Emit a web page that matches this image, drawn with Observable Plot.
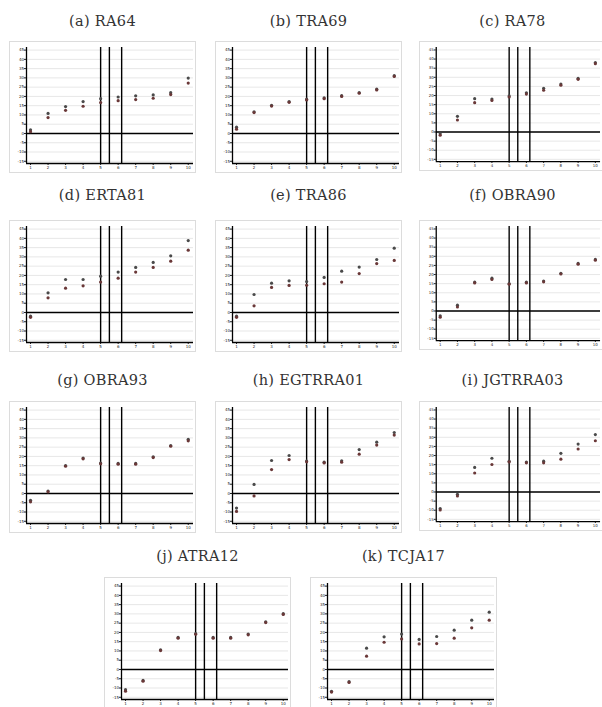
<!DOCTYPE html>
<html><head><meta charset="utf-8">
<script src="https://cdn.jsdelivr.net/npm/d3@7"></script>
<script src="https://cdn.jsdelivr.net/npm/@observablehq/plot@0.6"></script>
<style>
html,body{margin:0;padding:0;background:#fff;}
body{width:602px;height:707px;position:relative;overflow:hidden;}
.title{position:absolute;width:200px;text-align:center;font-family:"DejaVu Serif","Liberation Serif",serif;font-size:14.5px;letter-spacing:0.3px;color:#333;line-height:20px;white-space:nowrap;}
.panel{position:absolute;outline:1px solid #dcdcdc;}
.panel svg{display:block;}
</style></head><body>
<script>
const deciles = [1,2,3,4,5,6,7,8,9,10];
const yTicks = [-15,-10,-5,0,5,10,15,20,25,30,35,40,45];
const cutoffs = [5, 5.5, 6.2];
const titles = ["(a) RA64","(b) TRA69","(c) RA78","(d) ERTA81","(e) TRA86","(f) OBRA90","(g) OBRA93","(h) EGTRRA01","(i) JGTRRA03","(j) ATRA12","(k) TCJA17"];

const ra64_hi = [2.0,10.8,14.5,17.2,18.8,19.7,20.3,20.8,22.0,29.9];
const ra64_lo = [1.0,8.6,12.5,14.7,16.7,17.7,18.3,19.0,21.0,27.2];
const tra69_hi = [3.4,11.7,15.2,17.2,18.5,19.2,20.4,22.1,23.9,31.2];
const tra69_lo = [2.3,11.3,14.8,16.8,18.1,18.8,20.0,21.7,23.5,30.8];
const ra78_hi = [-1.0,8.6,18.3,18.1,19.8,21.5,24.0,26.3,29.5,38.1];
const ra78_lo = [-1.8,6.6,16.1,17.3,19.2,20.8,22.9,25.7,28.9,37.5];
const erta81_hi = [-2.0,10.6,17.8,17.8,19.6,21.8,24.3,27.0,30.6,38.8];
const erta81_lo = [-2.6,7.9,13.1,14.4,16.4,18.5,21.8,24.3,27.7,33.6];
const tra86_hi = [-2.0,9.7,15.8,17.1,16.7,18.9,22.3,24.5,28.6,34.7];
const tra86_lo = [-2.6,3.6,13.5,14.6,14.7,15.5,16.4,21.0,26.4,28.1];
const obra90_hi = [-2.6,3.2,15.8,18.0,15.1,15.8,16.4,20.7,26.1,28.3];
const obra90_lo = [-3.4,2.2,15.4,17.3,14.7,15.4,16.0,20.3,25.7,27.9];
const obra93_hi = [-3.7,1.3,15.1,19.1,16.4,16.2,16.2,19.8,25.9,29.2];
const obra93_lo = [-4.5,0.9,14.7,18.7,16.0,15.8,15.8,19.4,25.5,28.4];
const egtrra01_hi = [-7.9,4.9,17.8,20.5,17.5,16.9,17.6,23.7,27.7,32.9];
const egtrra01_lo = [-9.7,-1.3,12.9,18.3,17.1,16.5,16.9,21.2,26.1,31.5];
const jgtrra03_hi = [-9.1,-1.3,13.5,18.5,16.9,16.4,16.9,21.2,26.3,31.5];
const jgtrra03_lo = [-9.9,-2.2,10.4,15.1,16.5,16.0,16.0,18.0,23.6,28.1];
const atra12_hi = [-10.9,-5.9,10.6,17.3,19.4,17.3,17.3,19.1,25.7,30.1];
const atra12_lo = [-11.7,-6.3,10.2,16.9,19.0,16.9,16.9,18.7,25.3,29.7];
const tcja17_hi = [-11.8,-6.6,11.5,17.6,19.1,16.2,17.8,21.2,26.6,30.9];
const tcja17_lo = [-12.2,-7.0,7.2,14.7,16.5,13.8,14.0,16.9,22.5,26.6];

const panels = [
  [ra64_hi, ra64_lo],[tra69_hi, tra69_lo],[ra78_hi, ra78_lo],
  [erta81_hi, erta81_lo],[tra86_hi, tra86_lo],[obra90_hi, obra90_lo],
  [obra93_hi, obra93_lo],[egtrra01_hi, egtrra01_lo],[jgtrra03_hi, jgtrra03_lo],
  [atra12_hi, atra12_lo],[tcja17_hi, tcja17_lo]
];

// layout (page positions of each panel frame)
const colLeft = [10, 216, 420];
const rowTop = [42, 221, 402, 578];
const titleMid = [21, 195, 380, 556];
const W = 185, H = 130;
const xDom = [0.77, 10.3], yDom = [-16.2, 46.4];

panels.forEach(([hi, lo], i) => {
  const row = Math.floor(i / 3);
  const left = row < 3 ? colLeft[i % 3] : [105, 311][i - 9];
  const top = rowTop[row];
  const data = [
    ...deciles.map((d, k) => ({x: d, y: hi[k], s: "hi"})),
    ...deciles.map((d, k) => ({x: d, y: lo[k], s: "lo"}))
  ];
  const t = document.createElement("div");
  t.className = "title";
  t.textContent = titles[i];
  t.style.left = (left + W/2 - 100) + "px";
  t.style.top = (titleMid[row] - 10) + "px";
  document.body.appendChild(t);

  const chart = Plot.plot({
    width: W, height: H,
    marginLeft: 16, marginRight: 2, marginTop: 5, marginBottom: 9,
    x: {domain: xDom, label: null},
    y: {domain: yDom, label: null},
    style: {fontSize: "4px", fontFamily: "DejaVu Sans", color: "#222", background: "white", overflow: "visible"},
    marks: [
      Plot.gridY(yTicks, {stroke: "#cfcfcf", strokeOpacity: 1, strokeWidth: 0.5}),
      Plot.axisX(deciles, {tickSize: 2, tickPadding: 0.5, tickFormat: d => d, stroke: "#222", label: null}),
      Plot.axisY(yTicks, {tickSize: 2, tickPadding: 0.5, tickFormat: d => d, stroke: "#222", label: null}),
      Plot.ruleX([xDom[0]], {stroke: "black", strokeWidth: 1.3}),
      Plot.ruleY([yDom[0]], {stroke: "black", strokeWidth: 1.3}),
      Plot.ruleY([0], {stroke: "black", strokeWidth: 1.3}),
      Plot.ruleX(cutoffs, {stroke: "black", strokeWidth: 1.4}),
      Plot.dot(data, {x: "x", y: "y", r: 1.6, fill: d => d.s === "hi" ? "#4a4a4a" : "#6a3838", stroke: "none"})
    ]
  });
  const p = document.createElement("div");
  p.className = "panel";
  p.style.left = left + "px";
  p.style.top = top + "px";
  p.appendChild(chart);
  document.body.appendChild(p);
});
</script>
</body></html>
